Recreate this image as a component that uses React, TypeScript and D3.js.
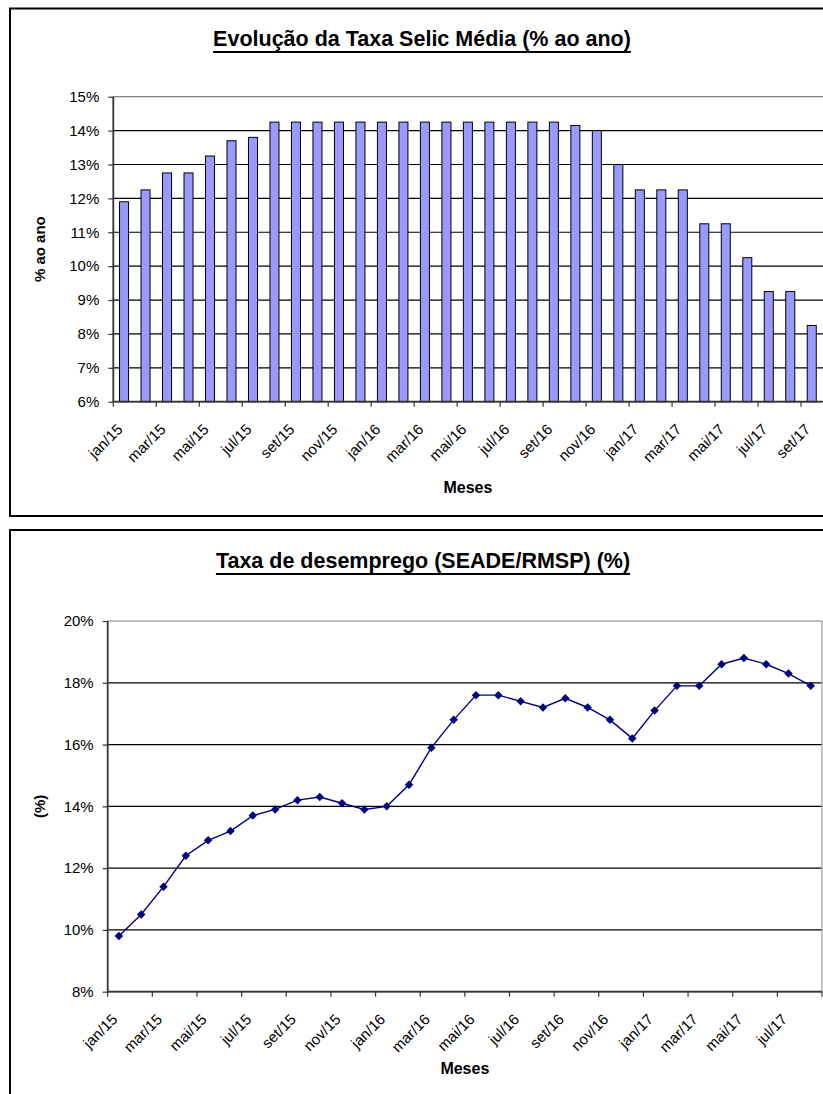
import React, { useEffect, useRef } from 'react';
import * as d3 from 'd3';

// months shown on the category axes
const meses = [
  'jan/15', 'fev/15', 'mar/15', 'abr/15', 'mai/15', 'jun/15', 'jul/15', 'ago/15', 'set/15', 'out/15', 'nov/15', 'dez/15',
  'jan/16', 'fev/16', 'mar/16', 'abr/16', 'mai/16', 'jun/16', 'jul/16', 'ago/16', 'set/16', 'out/16', 'nov/16', 'dez/16',
  'jan/17', 'fev/17', 'mar/17', 'abr/17', 'mai/17', 'jun/17', 'jul/17', 'ago/17', 'set/17',
];
const mesesDesemprego = meses.slice(0, 32);

// Selic média (% ao ano)
const selic = [
  11.9, 12.25, 12.75, 12.75, 13.25, 13.7, 13.8, 14.25, 14.25, 14.25, 14.25, 14.25,
  14.25, 14.25, 14.25, 14.25, 14.25, 14.25, 14.25, 14.25, 14.25, 14.15, 14.0, 13.0,
  12.25, 12.25, 12.25, 11.25, 11.25, 10.25, 9.25, 9.25, 8.25,
];

// Taxa de desemprego SEADE/RMSP (%)
const desemprego = [
  9.8, 10.5, 11.4, 12.4, 12.9, 13.2, 13.7, 13.9, 14.2, 14.3, 14.1, 13.9,
  14.0, 14.7, 15.9, 16.8, 17.6, 17.6, 17.4, 17.2, 17.5, 17.2, 16.8, 16.2,
  17.1, 17.9, 17.9, 18.6, 18.8, 18.6, 18.3, 17.9,
];

const selicTicks = [6, 7, 8, 9, 10, 11, 12, 13, 14, 15];
const desempregoTicks = [8, 10, 12, 14, 16, 18, 20];

const FONT = 'Arial, "Liberation Sans", Helvetica, sans-serif';

const App: React.FC = () => {
  const svgRef = useRef<SVGSVGElement>(null);

  useEffect(() => {
    if (!svgRef.current) return;
    const svg = d3.select(svgRef.current);
    svg.selectAll('*').remove();

    // ---------- shared helpers ----------
    const drawTitle = (text: string, cx: number, y: number) => {
      const t = svg.append('text')
        .attr('x', cx).attr('y', y)
        .attr('text-anchor', 'middle')
        .attr('font-family', FONT).attr('font-size', 21.5).attr('font-weight', 'bold')
        .attr('fill', '#000')
        .text(text);
      const w = (t.node() as SVGTextElement).getComputedTextLength();
      svg.append('line')
        .attr('x1', cx - w / 2).attr('x2', cx + w / 2)
        .attr('y1', y + 6).attr('y2', y + 6)
        .attr('stroke', '#000').attr('stroke-width', 2);
    };

    const drawYAxis = (
      y: d3.ScaleLinear<number, number>, ticks: number[], x0: number, x1: number,
    ) => {
      // grid
      svg.append('g').selectAll('line').data(ticks).join('line')
        .attr('x1', x0).attr('x2', x1)
        .attr('y1', d => y(d)).attr('y2', d => y(d))
        .attr('stroke', (d, i) => (i === ticks.length - 1 ? '#808080' : '#000'))
        .attr('stroke-width', 1.2);
      const ax = svg.append('g').attr('transform', `translate(${x0},0)`)
        .call(d3.axisLeft(y).tickValues(ticks).tickSize(5).tickPadding(9).tickFormat(d => `${d}%`));
      ax.select('.domain').remove();
      ax.selectAll('line').attr('stroke', '#333').attr('stroke-width', 1.2);
      ax.selectAll('text').attr('font-family', FONT).attr('font-size', 15).attr('fill', '#000');
      svg.append('line')
        .attr('x1', x0).attr('x2', x0)
        .attr('y1', y.range()[1]).attr('y2', y.range()[0])
        .attr('stroke', '#333').attr('stroke-width', 1.8);
    };

    const drawXAxis = (
      cats: string[], x0: number, x1: number, yAxis: number,
    ) => {
      const step = (x1 - x0) / cats.length;
      const tickIdx = d3.range(0, cats.length + 1, 2);
      svg.append('line')
        .attr('x1', x0).attr('x2', x1).attr('y1', yAxis).attr('y2', yAxis)
        .attr('stroke', '#333').attr('stroke-width', 1.8);
      svg.append('g').selectAll('line').data(tickIdx).join('line')
        .attr('x1', i => x0 + i * step).attr('x2', i => x0 + i * step)
        .attr('y1', yAxis).attr('y2', yAxis + 5)
        .attr('stroke', '#333').attr('stroke-width', 1.2);
      const labels = cats.map((c, i) => ({ c, i })).filter(d => d.i % 2 === 0);
      svg.append('g').selectAll('text').data(labels).join('text')
        .attr('transform', d => `translate(${x0 + (d.i + 0.5) * step - 8},${yAxis + 21}) rotate(-45)`)
        .attr('text-anchor', 'end')
        .attr('dy', '0.71em')
        .attr('font-family', FONT).attr('font-size', 15).attr('fill', '#000')
        .text(d => d.c);
    };

    const axisTitles = (yTitle: string, yx: number, yy: number, mx: number, my: number) => {
      svg.append('text')
        .attr('transform', `translate(${yx},${yy}) rotate(-90)`)
        .attr('text-anchor', 'middle')
        .attr('font-family', FONT).attr('font-size', 15).attr('font-weight', 'bold')
        .text(yTitle);
      svg.append('text')
        .attr('x', mx).attr('y', my)
        .attr('text-anchor', 'middle')
        .attr('font-family', FONT).attr('font-size', 16).attr('font-weight', 'bold')
        .text('Meses');
    };

    // ---------- chart 1: Selic ----------
    svg.append('rect')
      .attr('x', 10).attr('y', 8.5).attr('width', 830).attr('height', 507.5)
      .attr('fill', '#fff').attr('stroke', '#000').attr('stroke-width', 2);

    const p1 = { left: 113.3, right: 822.5, top: 96.7, bottom: 401.7 };
    const y1 = d3.scaleLinear().domain([6, 15]).range([p1.bottom, p1.top]);
    const x1 = d3.scaleBand<string>().domain(meses).range([p1.left, p1.right])
      .paddingInner(0.58).paddingOuter(0.29);

    drawTitle('Evolução da Taxa Selic Média (% ao ano)', 422, 46);
    drawYAxis(y1, selicTicks, p1.left, 823);

    svg.append('g').selectAll('rect').data(selic).join('rect')
      .attr('x', (d, i) => x1(meses[i]) as number)
      .attr('y', d => y1(d))
      .attr('width', x1.bandwidth())
      .attr('height', d => p1.bottom - y1(d))
      .attr('fill', '#9999FF')
      .attr('stroke', '#000').attr('stroke-width', 1);

    drawXAxis(meses, p1.left, p1.right, p1.bottom);
    axisTitles('% ao ano', 45, (p1.top + p1.bottom) / 2, (p1.left + p1.right) / 2, 493);

    // ---------- chart 2: desemprego ----------
    svg.append('rect')
      .attr('x', 10).attr('y', 530).attr('width', 830).attr('height', 600)
      .attr('fill', '#fff').attr('stroke', '#000').attr('stroke-width', 2);

    const p2 = { left: 107.7, right: 822, top: 621, bottom: 991.7 };
    const y2 = d3.scaleLinear().domain([8, 20]).range([p2.bottom, p2.top]);
    const x2 = d3.scalePoint<string>().domain(mesesDesemprego).range([p2.left, p2.right]).padding(0.5);

    drawTitle('Taxa de desemprego (SEADE/RMSP) (%)', 423, 568);
    drawYAxis(y2, desempregoTicks, p2.left, p2.right);
    svg.append('line')
      .attr('x1', p2.right).attr('x2', p2.right).attr('y1', p2.top).attr('y2', p2.bottom)
      .attr('stroke', '#999').attr('stroke-width', 1.2);

    const line = d3.line<number>()
      .x((d, i) => x2(mesesDesemprego[i]) as number)
      .y(d => y2(d));
    svg.append('path').datum(desemprego)
      .attr('d', line)
      .attr('fill', 'none').attr('stroke', '#000080').attr('stroke-width', 1.4);

    const diamond = d3.symbol().type(d3.symbolSquare).size(36)();
    svg.append('g').selectAll('path').data(desemprego).join('path')
      .attr('d', diamond)
      .attr('transform', (d, i) => `translate(${x2(mesesDesemprego[i])},${y2(d)}) rotate(45)`)
      .attr('fill', '#000080');

    drawXAxis(mesesDesemprego, p2.left, p2.right, p2.bottom);
    axisTitles('(%)', 45, (p2.top + p2.bottom) / 2, (p2.left + p2.right) / 2, 1074);
  }, []);

  return (
    <svg
      ref={svgRef}
      width={823}
      height={1094}
      style={{ position: 'absolute', left: 0, top: 0, background: '#fff' }}
    />
  );
};

export default App;
